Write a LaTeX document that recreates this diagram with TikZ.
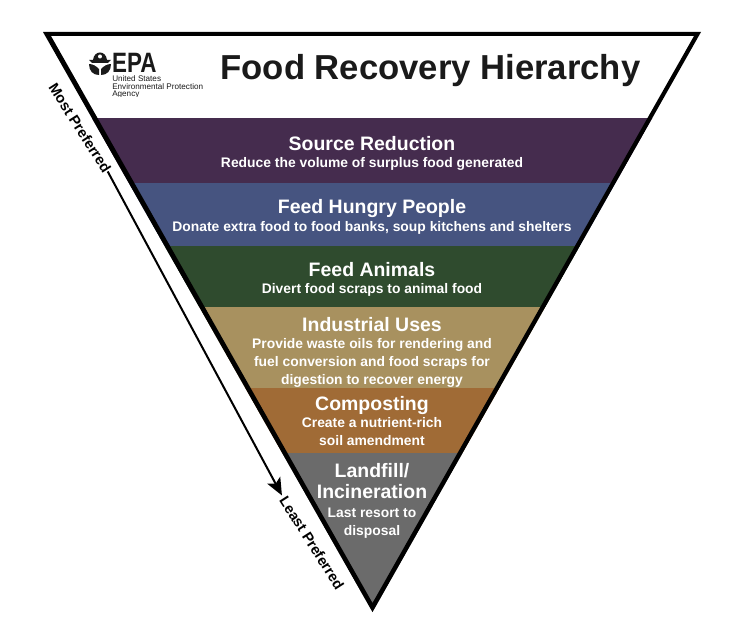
\documentclass[tikz,border=0pt]{standalone}
\usepackage{fontspec}
\setmainfont{Liberation Sans}
\usetikzlibrary{arrows.meta, positioning, calc}
\definecolor{reductionc}{RGB}{69,44,78}
\definecolor{peoplec}{RGB}{70,84,128}
\definecolor{animalc}{RGB}{47,75,46}
\definecolor{industryc}{RGB}{168,145,95}
\definecolor{compostc}{RGB}{160,107,54}
\definecolor{landfillc}{RGB}{107,107,107}
\definecolor{inkc}{RGB}{26,26,26}
\tikzset{
  headtext/.style={white, font=\bfseries\fontsize{14.6}{16.4}\selectfont, align=center, inner sep=0pt},
  subtext/.style={white, font=\bfseries\fontsize{10.4}{13.6}\selectfont, align=center, inner sep=0pt},
  sidetext/.style={black, font=\bfseries\fontsize{10.9}{12}\selectfont, rotate=-57.5, inner sep=0pt},
}

\begin{document}
\begin{tikzpicture}[x=0.75pt, y=-0.75pt]
  \useasboundingbox (0,0) rectangle (754,624);
  \fill[white] (0,0) rectangle (754,624);
  % Coloured bands
  \begin{scope}
    \clip (43,32) -- (701,32) -- (372.5,612) -- cycle;
    \fill[reductionc] (0,118.5) rectangle (754,183);
    \fill[peoplec] (0,183) rectangle (754,246);
    \fill[animalc] (0,246) rectangle (754,307);
    \fill[industryc] (0,307) rectangle (754,388);
    \fill[compostc] (0,388) rectangle (754,453);
    \fill[landfillc] (0,453) rectangle (754,624);
  \end{scope}
  % Outline
  \fill[black, even odd rule] (43,32) -- (701,32) -- (372.5,612) -- cycle
    (51,36) -- (694,36) -- (372.5,603) -- cycle;
  % Logo
  \node[inkc, font=\bfseries\fontsize{21}{21}\selectfont, inner sep=0pt, anchor=base west, xscale=0.8, transform shape] (epa) at (112,73) {EPA};
  \fill[inkc] (93,60) .. controls (94,50) and (106,50) .. (107,60) -- cycle;
  \fill[white] (100,56.5) circle (2);
  \fill[inkc] (89,60) -- (111,60) -- (108,63) -- (92,63) -- cycle;
  \fill[inkc] (89,64) .. controls (93,64) and (96,66) .. (99,69) -- (99,75) .. controls (93,75) and (89,71) .. (89,64) -- cycle;
  \fill[inkc] (111,64) .. controls (107,64) and (104,66) .. (101,69) -- (101,75) .. controls (107,75) and (111,71) .. (111,64) -- cycle;
  \begin{scope}
    \clip (100,50) rectangle (220,96.5);
    \node[inkc, font=\fontsize{6.1}{5.7}\selectfont, align=left, inner sep=0pt, anchor=north west] (agency) at (112,75.5) {United States\\Environmental Protection\\Agency};
  \end{scope}
  % Title
  \node[inkc, font=\bfseries\fontsize{26}{26}\selectfont, inner sep=0pt] (title) at (430.5,71) {Food Recovery Hierarchy};
  % Band labels
  \node[headtext] (source) at (372,144) {Source Reduction};
  \node[subtext] (sourcesub) at (372,164) {Reduce the volume of surplus food generated};
  \node[headtext] (hungry) at (372,209) {Feed Hungry People};
  \node[subtext] (hungrysub) at (372,228) {Donate extra food to food banks, soup kitchens and shelters};
  \node[headtext] (animals) at (372,270) {Feed Animals};
  \node[subtext] (animalssub) at (372,290) {Divert food scraps to animal food};
  \node[headtext] (industrial) at (372,325) {Industrial Uses};
  \node[subtext] (industrialsub) at (372,363) {Provide waste oils for rendering and\\fuel conversion and food scraps for\\digestion to recover energy};
  \node[headtext] (composting) at (372,406) {Composting};
  \node[subtext] (compostingsub) at (372,431.5) {Create a nutrient-rich\\soil amendment};
  \node[headtext] (landfill) at (372,481) {Landfill/\\Incineration};
  \node[subtext] (landfillsub) at (372,523) {Last resort to\\disposal};
  % Side arrow
  \node[sidetext] (most) at (80,128) {Most Preferred};
  \node[sidetext] (least) at (312,543) {Least Preferred};
  \draw[-{Stealth[length=13pt, width=11pt, inset=3pt]}, black, line width=1.5pt, shorten >=2pt] (most.east) -- (least.west);
\end{tikzpicture}
\end{document}
